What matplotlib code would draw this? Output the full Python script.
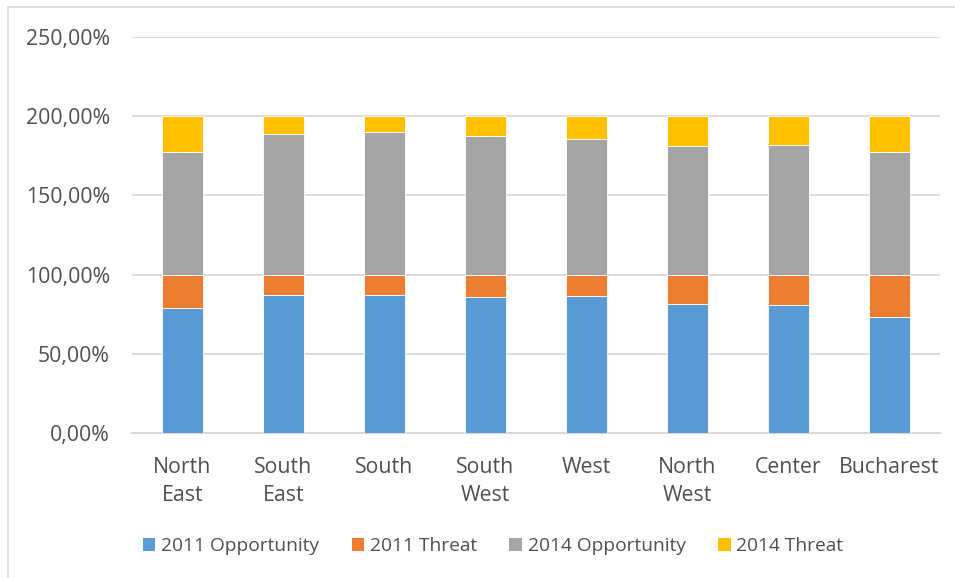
import matplotlib
matplotlib.use("Agg")
import matplotlib.pyplot as plt
from matplotlib.lines import Line2D
from matplotlib.patches import Patch
import numpy as np

regions = ["North\nEast", "South\nEast", "South", "South\nWest", "West", "North\nWest", "Center", "Bucharest"]
opportunity_2011 = [78.8, 87.0, 87.4, 85.9, 86.6, 81.3, 80.7, 73.1]
threat_2011 = [21.2, 13.0, 12.6, 14.1, 13.4, 18.7, 19.3, 26.9]
opportunity_2014 = [77.7, 88.7, 90.1, 87.4, 85.3, 81.1, 82.1, 77.7]
threat_2014 = [22.3, 11.3, 9.9, 12.6, 14.7, 18.9, 17.9, 22.3]
y_ticks = [0, 50, 100, 150, 200, 250]

series = [
    ("2011 Opportunity", opportunity_2011, "#5B9BD5"),
    ("2011 Threat", threat_2011, "#ED7D31"),
    ("2014 Opportunity", opportunity_2014, "#A5A5A5"),
    ("2014 Threat", threat_2014, "#FFC000"),
]

plt.rcParams["font.family"] = ["Open Sans", "DejaVu Sans"]
text_color = "#505050"
grid_color = "#D9D9D9"

fig = plt.figure(figsize=(9.55, 5.78), dpi=100)
ax = fig.add_axes([132 / 955, 1 - 433 / 578, (940 - 132) / 955, (433 - 37) / 578])

x = np.arange(len(regions))
bottom = np.zeros(len(regions))
handles = []
for name, vals, color in series:
    vals = np.array(vals, dtype=float)
    ax.bar(x, vals, width=0.4, bottom=bottom, color=color,
           edgecolor="white", linewidth=0.6, zorder=3)
    bottom += vals
    handles.append(Patch(facecolor=color, edgecolor="none", label=name))

ax.set_xlim(-0.5, len(regions) - 0.5)
ax.set_ylim(0, 250)
ax.set_yticks(y_ticks)
ax.set_yticklabels([f"{v:.2f}%".replace(".", ",") for v in y_ticks])
ax.set_xticks(x)
ax.set_xticklabels(regions, linespacing=1.48)
ax.yaxis.grid(True, color=grid_color, linewidth=1.3, zorder=0)
ax.set_axisbelow(True)
for side in ["top", "right", "left"]:
    ax.spines[side].set_visible(False)
ax.spines["bottom"].set_color(grid_color)
ax.spines["bottom"].set_linewidth(1.5)
ax.tick_params(axis="both", length=0, labelsize=15.3, colors=text_color)
ax.tick_params(axis="y", pad=16)
ax.tick_params(axis="x", pad=17)

leg = fig.legend(handles=handles, loc="center", bbox_to_anchor=(493 / 955, 1 - 546 / 578),
                 ncol=4, frameon=False, fontsize=13.8, handlelength=0.65, handleheight=0.65,
                 handletextpad=0.3, columnspacing=1.7)
for t in leg.get_texts():
    t.set_color(text_color)

# chart-area border (top and left edges)
fig.add_artist(Line2D([8 / 955, 1.0], [1 - 7 / 578, 1 - 7 / 578], color=grid_color, linewidth=1.2))
fig.add_artist(Line2D([8 / 955, 8 / 955], [0.0, 1 - 7 / 578], color=grid_color, linewidth=1.2))

fig.savefig("out.png", dpi=100, facecolor="white")
